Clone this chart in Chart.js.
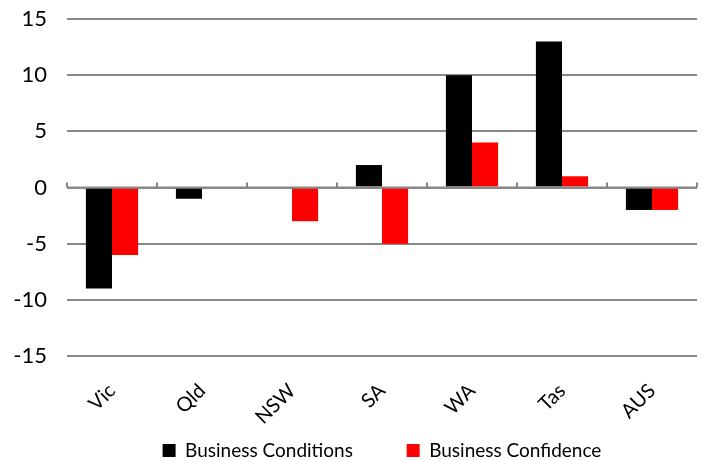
<!DOCTYPE html>
<html lang="en">
<head>
    <meta charset="UTF-8">
    <title>Business Conditions and Confidence by State</title>
    <style>
        html, body {
            margin: 0;
            padding: 0;
            background: #fff;
        }
        #wrap {
            width: 709px;
            height: 461px;
        }
    </style>
</head>
<body>
    <div id="wrap"><canvas id="chart"></canvas></div>

    <script src="https://cdn.jsdelivr.net/npm/chart.js"></script>
    <script>
        const states = ['Vic', 'Qld', 'NSW', 'SA', 'WA', 'Tas', 'AUS'];
        const conditions = [-9, -1, 0, 2, 10, 13, -2];
        const confidence = [-6, 0, -3, -5, 4, 1, -2];
        const yTicks = [-15, -10, -5, 0, 5, 10, 15];

        const fontFamily = "Lato, 'Open Sans', sans-serif";

        // small tick marks on the zero line, between the categories
        const zeroTicks = {
            id: 'zeroTicks',
            afterDatasetsDraw(chart) {
                const { ctx, scales: { x, y } } = chart;
                const y0 = y.getPixelForValue(0);
                ctx.save();
                ctx.strokeStyle = '#888888';
                ctx.lineWidth = 2;
                ctx.beginPath();
                for (let i = 0; i <= states.length; i++) {
                    const px = Math.round(x.getPixelForValue(i - 0.5));
                    ctx.moveTo(px, y0);
                    ctx.lineTo(px, y0 - 5);
                }
                ctx.moveTo(x.left, y0);
                ctx.lineTo(x.right, y0);
                ctx.stroke();
                ctx.restore();
            }
        };

        new Chart(document.getElementById('chart'), {
            type: 'bar',
            data: {
                labels: states,
                datasets: [
                    {
                        label: 'Business Conditions',
                        data: conditions,
                        backgroundColor: '#000000'
                    },
                    {
                        label: 'Business Confidence',
                        data: confidence,
                        backgroundColor: '#ff0000'
                    }
                ]
            },
            options: {
                responsive: true,
                maintainAspectRatio: false,
                animation: false,
                devicePixelRatio: 1,
                layout: {
                    padding: { left: 10, right: 12, top: 19, bottom: -9 }
                },
                datasets: {
                    bar: {
                        categoryPercentage: 0.58,
                        barPercentage: 1
                    }
                },
                plugins: {
                    tooltip: { enabled: false },
                    legend: {
                        position: 'bottom',
                        fullSize: false,
                        labels: {
                            boxWidth: 13,
                            boxHeight: 13,
                            padding: 10,
                            color: '#000',
                            font: { family: fontFamily, size: 19 },
                            // pad the first entry so the two keys sit well apart
                            generateLabels(chart) {
                                const items = Chart.defaults.plugins.legend.labels.generateLabels(chart);
                                items[0].text += '\u00a0'.repeat(9);
                                return items;
                            }
                        }
                    }
                },
                scales: {
                    x: {
                        afterFit(scale) { scale.height = 75; },
                        grid: { display: false, drawTicks: false },
                        border: { display: false },
                        ticks: {
                            minRotation: 45,
                            maxRotation: 45,
                            padding: 23,
                            color: '#000',
                            font: { family: fontFamily, size: 20 }
                        }
                    },
                    y: {
                        min: -15,
                        max: 15,
                        afterFit(scale) {
                            scale.width = 57;
                            scale.paddingTop = 0;
                            scale.paddingBottom = 0;
                        },
                        afterBuildTicks(scale) {
                            scale.ticks = yTicks.map(v => ({ value: v }));
                        },
                        grid: {
                            color: '#888888',
                            lineWidth: 2,
                            drawTicks: false
                        },
                        border: { display: false },
                        ticks: {
                            padding: 20,
                            color: '#000',
                            font: { family: fontFamily, size: 22 }
                        }
                    }
                }
            },
            plugins: [zeroTicks]
        });
    </script>
</body>
</html>
